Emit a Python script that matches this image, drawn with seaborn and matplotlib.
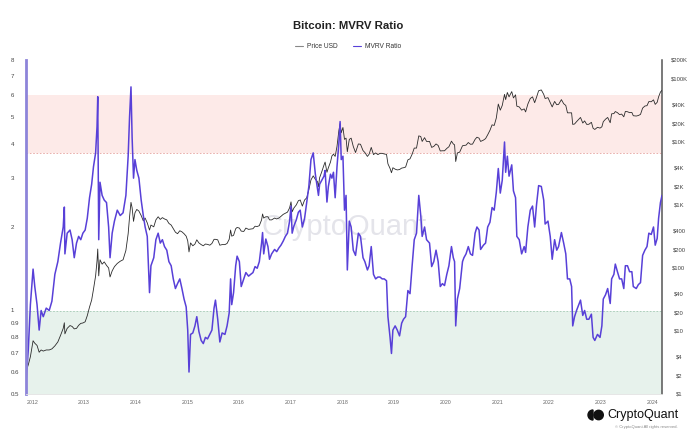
import pandas as pd
import numpy as np
import seaborn as sns
import matplotlib
matplotlib.use("Agg")
import matplotlib.pyplot as plt
import matplotlib.dates as mdates
import matplotlib.transforms as mtransforms
from matplotlib.lines import Line2D
from matplotlib.patches import Wedge, Circle, Rectangle

sns.set_theme(style="white")
plt.rcParams['font.family'] = ['Liberation Sans', 'DejaVu Sans']

# Datos (aprox. cada dos semanas)
fechas = [
    '2011-11-20', '2011-12-05', '2011-12-20',
    '2012-01-08', '2012-01-20', '2012-02-05', '2012-02-20', '2012-03-05', '2012-03-20', '2012-04-10', '2012-05-01',
    '2012-05-20', '2012-06-10', '2012-07-01', '2012-07-20', '2012-08-08', '2012-08-16', '2012-08-20', '2012-09-05',
    '2012-09-25', '2012-10-10', '2012-10-25', '2012-11-10', '2012-11-25', '2012-12-10', '2012-12-25',
    '2013-01-10', '2013-01-25', '2013-02-10', '2013-02-25', '2013-03-10', '2013-03-25', '2013-04-04', '2013-04-09',
    '2013-04-16', '2013-04-25', '2013-05-10', '2013-05-25', '2013-06-10', '2013-06-25', '2013-07-05', '2013-07-20',
    '2013-08-05', '2013-08-25', '2013-09-15', '2013-10-05', '2013-10-25', '2013-11-10', '2013-11-20', '2013-11-30',
    '2013-12-08', '2013-12-18', '2013-12-28',
    '2014-01-10', '2014-01-25', '2014-02-10', '2014-02-25', '2014-03-10', '2014-03-25', '2014-04-10', '2014-04-20',
    '2014-05-10', '2014-05-25', '2014-06-10', '2014-06-25', '2014-07-10', '2014-07-25', '2014-08-10', '2014-08-25',
    '2014-09-10', '2014-09-25', '2014-10-10', '2014-10-25', '2014-11-10', '2014-11-25', '2014-12-10', '2014-12-25',
    '2015-01-05', '2015-01-14', '2015-01-25', '2015-02-10', '2015-02-25', '2015-03-10', '2015-03-25', '2015-04-10',
    '2015-04-25', '2015-05-10', '2015-05-25', '2015-06-10', '2015-06-25', '2015-07-10', '2015-07-20', '2015-08-05',
    '2015-08-20', '2015-09-05', '2015-09-25', '2015-10-10', '2015-10-25', '2015-11-04', '2015-11-12', '2015-11-25',
    '2015-12-10', '2015-12-20',
    '2016-01-05', '2016-01-18', '2016-02-05', '2016-02-20', '2016-03-10', '2016-03-25', '2016-04-10', '2016-04-25',
    '2016-05-10', '2016-05-25', '2016-06-10', '2016-06-17', '2016-06-25', '2016-07-10', '2016-07-25', '2016-08-05',
    '2016-08-20', '2016-09-10', '2016-09-25', '2016-10-10', '2016-10-25', '2016-11-10', '2016-11-25', '2016-12-10',
    '2016-12-25',
    '2017-01-04', '2017-01-12', '2017-01-25', '2017-02-10', '2017-02-25', '2017-03-10', '2017-03-25', '2017-04-10',
    '2017-04-25', '2017-05-10', '2017-05-25', '2017-06-10', '2017-06-25', '2017-07-10', '2017-07-17', '2017-07-25',
    '2017-08-10', '2017-08-25', '2017-09-02', '2017-09-15', '2017-09-25', '2017-10-10', '2017-10-20', '2017-10-31',
    '2017-11-12', '2017-11-25', '2017-12-08', '2017-12-17', '2017-12-25',
    '2018-01-06', '2018-01-17', '2018-01-28', '2018-02-06', '2018-02-20', '2018-03-05', '2018-03-20', '2018-04-05',
    '2018-04-25', '2018-05-10', '2018-05-28', '2018-06-10', '2018-06-28', '2018-07-10', '2018-07-25', '2018-08-10',
    '2018-08-25', '2018-09-10', '2018-09-25', '2018-10-10', '2018-10-25', '2018-11-10', '2018-11-20', '2018-12-05',
    '2018-12-15', '2018-12-25',
    '2019-01-10', '2019-01-25', '2019-02-10', '2019-02-25', '2019-03-10', '2019-03-25', '2019-04-10', '2019-04-25',
    '2019-05-10', '2019-05-25', '2019-06-10', '2019-06-26', '2019-07-10', '2019-07-20', '2019-08-06', '2019-08-20',
    '2019-09-10', '2019-09-25', '2019-10-10', '2019-10-26', '2019-11-10', '2019-11-25', '2019-12-10', '2019-12-25',
    '2020-01-10', '2020-01-25', '2020-02-12', '2020-02-25', '2020-03-05', '2020-03-13', '2020-03-25', '2020-04-10',
    '2020-04-30', '2020-05-10', '2020-05-25', '2020-06-10', '2020-06-25', '2020-07-10', '2020-07-28', '2020-08-10',
    '2020-08-25', '2020-09-05', '2020-09-25', '2020-10-10', '2020-10-25', '2020-11-10', '2020-11-25', '2020-12-10',
    '2020-12-25',
    '2021-01-08', '2021-01-22', '2021-02-05', '2021-02-21', '2021-03-01', '2021-03-13', '2021-03-25', '2021-04-13',
    '2021-04-25', '2021-05-10', '2021-05-19', '2021-06-05', '2021-06-22', '2021-07-10', '2021-07-20', '2021-08-05',
    '2021-08-22', '2021-09-07', '2021-09-22', '2021-10-05', '2021-10-20', '2021-11-08', '2021-11-25', '2021-12-05',
    '2021-12-25',
    '2022-01-10', '2022-01-24', '2022-02-10', '2022-02-25', '2022-03-10', '2022-03-30', '2022-04-15', '2022-04-30',
    '2022-05-12', '2022-05-28', '2022-06-10', '2022-06-18', '2022-07-01', '2022-07-15', '2022-08-12', '2022-08-28',
    '2022-09-10', '2022-09-25', '2022-10-10', '2022-10-28', '2022-11-09', '2022-11-21', '2022-12-10', '2022-12-28',
    '2023-01-10', '2023-01-20', '2023-02-05', '2023-02-20', '2023-03-10', '2023-03-20', '2023-04-05', '2023-04-15',
    '2023-04-30', '2023-05-15', '2023-05-30', '2023-06-14', '2023-06-25', '2023-07-10', '2023-07-25', '2023-08-10',
    '2023-08-20', '2023-09-10', '2023-09-25', '2023-10-10', '2023-10-25', '2023-11-10', '2023-11-25', '2023-12-08',
    '2023-12-25',
    '2024-01-10', '2024-01-22', '2024-02-05', '2024-02-15', '2024-02-28', '2024-03-10',
]

mvrv = [
    0.56, 0.72, 1.05,
    1.41, 1.22, 1.05, 0.85, 1.0, 0.95, 1.02, 1.0,
    1.08, 1.35, 1.5, 1.75, 2.0, 2.36, 1.6, 1.9,
    1.95, 1.8, 1.55, 1.75, 1.85, 1.8, 1.9,
    1.95, 2.15, 2.55, 2.85, 3.3, 3.7, 4.6, 5.9,
    1.8, 2.9, 2.6, 2.5, 2.45, 2.0, 1.55, 1.9,
    2.1, 2.3, 2.2, 2.25, 2.6, 3.6, 5.0, 6.4,
    4.2, 3.0, 3.5,
    3.2, 3.0, 2.5, 2.2, 2.0, 1.85, 1.16, 1.45,
    1.55, 1.8, 1.9, 1.75, 1.8, 1.7, 1.65, 1.5,
    1.45, 1.3, 1.2, 1.25, 1.3, 1.2, 1.1, 1.03,
    0.85, 0.6, 0.82, 0.83, 0.88, 0.95, 0.84, 0.78,
    0.76, 0.8, 0.79, 0.82, 0.85, 1.02, 1.09, 0.93,
    0.77, 0.83, 0.82, 0.88, 0.98, 1.3, 1.05, 1.16,
    1.45, 1.57,
    1.5, 1.22, 1.3, 1.37, 1.33, 1.35, 1.37, 1.44,
    1.42, 1.5, 1.75, 1.91, 1.6, 1.81, 1.7, 1.53,
    1.6, 1.66, 1.63, 1.68, 1.72, 1.78, 1.85, 1.9,
    2.1,
    2.38, 1.9, 2.02, 2.12, 2.26, 2.3, 2.0, 2.15,
    2.45, 2.8, 3.5, 3.7, 3.1, 2.75, 2.6, 2.85,
    2.95, 3.05, 3.2, 2.46, 2.8, 3.1, 3.0, 3.15,
    2.55, 3.3, 4.0, 4.8, 3.5,
    3.6, 2.3, 2.6, 1.4, 2.1, 2.0, 1.65, 1.58,
    1.9, 1.85, 1.55, 1.5, 1.4, 1.45, 1.7, 1.35,
    1.3, 1.32, 1.32, 1.3, 1.3, 1.28, 0.95, 0.8,
    0.7, 0.85,
    0.88, 0.85, 0.81, 0.9, 0.93, 0.95, 1.18, 1.15,
    1.45, 1.8, 1.9, 2.6, 2.2, 1.85, 2.0, 1.8,
    1.75, 1.44, 1.5, 1.65, 1.5, 1.22, 1.25, 1.23,
    1.35, 1.45, 1.7, 1.55, 1.5, 0.88, 1.1, 1.2,
    1.5, 1.55, 1.6, 1.7, 1.6, 1.58, 1.9, 2.0,
    1.95, 1.66, 1.72, 1.75, 2.0, 2.08, 2.35, 2.3,
    2.67,
    3.25, 2.65, 2.95, 4.05, 3.15, 3.6, 3.05, 3.35,
    2.7, 2.55, 1.85, 1.8, 1.6, 1.7, 1.62, 2.0,
    2.3, 2.38, 2.0, 2.4, 2.82, 2.8, 2.5, 2.05,
    2.1,
    1.85, 1.53, 1.8, 1.65, 1.7, 1.91, 1.75, 1.6,
    1.3, 1.3, 1.22, 0.88, 0.95, 1.0, 1.09, 0.96,
    1.0, 0.93, 0.93, 0.97, 0.8, 0.78, 0.82, 0.8,
    0.88, 1.1, 1.14, 1.2, 1.06, 1.3, 1.35, 1.47,
    1.38, 1.3, 1.3, 1.2, 1.45, 1.45, 1.38, 1.38,
    1.22, 1.2, 1.24, 1.26, 1.58, 1.65, 1.7, 1.9,
    1.88,
    2.0, 1.72, 1.82, 2.15, 2.45, 2.6,
]

precio = [
    2.3, 2.9, 3.9,
    7.0, 6.4, 5.9, 4.6, 5.0, 4.8, 5.0, 5.0,
    5.2, 5.8, 6.7, 8.5, 11.0, 13.5, 9.0, 11.0,
    12.2, 11.8, 10.8, 11.0, 12.3, 13.2, 13.4,
    14.0, 17.5, 24.0, 31.0, 46, 75, 130, 200,
    75, 135, 115, 125, 110, 100, 72, 90,
    105, 118, 128, 135, 190, 350, 650, 1100,
    900, 550, 750,
    850, 800, 680, 560, 620, 520, 400, 480,
    450, 580, 650, 590, 630, 600, 580, 510,
    480, 420, 370, 350, 390, 375, 350, 320,
    270, 180, 250, 225, 240, 280, 250, 235,
    225, 240, 237, 230, 245, 285, 285, 280,
    230, 235, 235, 245, 285, 400, 320, 330,
    420, 440,
    430, 385, 380, 430, 410, 415, 420, 460,
    455, 470, 580, 720, 620, 650, 650, 580,
    580, 620, 600, 620, 660, 710, 740, 770,
    900,
    1120, 780, 900, 1000, 1170, 1200, 960, 1200,
    1300, 1750, 2500, 2900, 2550, 2350, 1950, 2700,
    3400, 4300, 4800, 3300, 3900, 4800, 6000, 6400,
    5900, 8500, 15000, 19500, 14000,
    17000, 11000, 11500, 7000, 11000, 11500, 8500, 6800,
    9300, 9200, 7300, 6800, 5900, 6400, 8200, 6300,
    6700, 6300, 6600, 6600, 6450, 6350, 4500, 3800,
    3250, 3900,
    3700, 3600, 3650, 3850, 3900, 4000, 5200, 5400,
    6400, 8000, 8000, 12500, 12200, 10200, 11700, 10200,
    10200, 8200, 8500, 9300, 8800, 7200, 7250, 7250,
    7900, 8400, 10300, 9300, 9000, 4900, 6700, 6900,
    8700, 8800, 8900, 9800, 9200, 9250, 11000, 11900,
    11500, 10200, 10700, 11300, 13000, 15300, 18700, 18300,
    24000,
    40000, 32000, 38000, 57000, 47000, 61000, 52000, 63000,
    50000, 56000, 37000, 36000, 32000, 33500, 30000, 40000,
    49000, 52000, 42000, 51000, 65000, 67000, 57000, 49000,
    50500,
    42000, 36000, 44000, 39000, 39500, 47000, 40500, 38000,
    29000, 29000, 29000, 19000, 19300, 21000, 24500, 20000,
    21600, 19000, 19100, 20500, 16500, 15800, 17100, 16600,
    17400, 21000, 23000, 24500, 20200, 28000, 28200, 30400,
    29200, 27200, 27700, 25100, 30500, 30200, 29200, 29400,
    26100, 25800, 26300, 27400, 34500, 37200, 37700, 43800,
    43500,
    46600, 39500, 42700, 52000, 62000, 66000,
]

ticks_mvrv = [0.5, 0.6, 0.7, 0.8, 0.9, 1, 2, 3, 4, 5, 6, 7, 8]
ticks_precio = [1, 2, 4, 10, 20, 40, 100, 200, 400, 1000, 2000, 4000, 10000, 20000, 40000, 100000, 200000]
etiquetas_precio = ['$1', '$2', '$4', '$10', '$20', '$40', '$100', '$200', '$400', '$1K', '$2K', '$4K',
                    '$10K', '$20K', '$40K', '$100K', '$200K']

df = pd.DataFrame({'fecha': pd.to_datetime(fechas), 'mvrv': mvrv, 'precio': precio})

color_mvrv = '#5840D8'
color_precio = '#2b2b2b'

fig = plt.figure(figsize=(6.96, 4.38), dpi=100)
ax = fig.add_axes([26 / 696, 44 / 438, 636 / 696, 334 / 438])
ax2 = ax.twinx()

# Precio en el eje derecho (debajo), MVRV encima
sns.lineplot(data=df, x='fecha', y='precio', ax=ax2, color=color_precio, lw=0.6, zorder=3)
sns.lineplot(data=df, x='fecha', y='mvrv', ax=ax, color=color_mvrv, lw=1.1)
ax.set_zorder(ax2.get_zorder() + 1)
ax.patch.set_visible(False)

# Zonas dibujadas en el eje de fondo, en coordenadas del MVRV
trans = mtransforms.blended_transform_factory(ax2.transAxes, ax.transData)
ax2.add_patch(Rectangle((0, 3.7), 1, 6 - 3.7, transform=trans, color='#fdeae8', lw=0, zorder=0))
ax2.add_patch(Rectangle((0, 0.5), 1, 1 - 0.5, transform=trans, color='#e7f2ec', lw=0, zorder=0))
ax2.add_line(Line2D([0, 1], [3.7, 3.7], transform=trans, color='#e6a29e', ls=(0, (2, 2)), lw=0.6, zorder=1))
ax2.add_line(Line2D([0, 1], [1, 1], transform=trans, color='#a3c9b3', ls=(0, (2, 2)), lw=0.6, zorder=1))

ax.set_xlim(pd.Timestamp('2011-11-19'), pd.Timestamp('2024-03-10'))
ax.set_yscale('log')
ax.set_ylim(0.5, 8)
ax2.set_yscale('log')
ax2.set_ylim(1, 200000)

ax.set_yticks(ticks_mvrv)
ax.set_yticklabels([f'{t:g}' for t in ticks_mvrv])
ax.yaxis.set_minor_locator(matplotlib.ticker.NullLocator())
ax2.set_yticks(ticks_precio)
ax2.set_yticklabels(etiquetas_precio)
ax2.yaxis.set_minor_locator(matplotlib.ticker.NullLocator())

ax.tick_params(axis='y', which='both', length=0, pad=10.8, labelsize=4.4, labelcolor='#444444')
for lbl in ax.get_yticklabels():
    lbl.set_ha('left')
ax2.tick_params(axis='y', which='both', length=0, pad=12.2, labelsize=4.2, labelcolor='#444444')
for lbl in ax2.get_yticklabels():
    lbl.set_ha('center')

ax.xaxis.set_major_locator(mdates.YearLocator())
ax.xaxis.set_major_formatter(mdates.DateFormatter('%Y'))
ax.tick_params(axis='x', length=2, width=0.5, color='#d0d0d0', labelsize=3.8, labelcolor='#666666', pad=2)
ax2.tick_params(axis='x', length=0)

ax.set_xlabel('')
ax.set_ylabel('')
ax2.set_ylabel('')
ax.grid(False)
ax2.grid(False)

for a in (ax, ax2):
    a.spines['top'].set_visible(False)
ax.spines['right'].set_visible(False)
ax2.spines['left'].set_visible(False)
ax2.spines['bottom'].set_visible(False)
ax.spines['left'].set_color('#8d84d9')
ax.spines['left'].set_linewidth(2)
ax.spines['bottom'].set_color('#e2e2e2')
ax.spines['bottom'].set_linewidth(0.6)
ax2.spines['right'].set_color('#555555')
ax2.spines['right'].set_linewidth(1.1)

# Marca de agua
ax2.text(0.5, 0.5, 'CryptoQuant', transform=ax2.transAxes, ha='center', va='center',
         fontsize=21, color='#e4e4ea', zorder=0.5)

# Titulo y leyenda
fig.text(0.5, 1 - 26 / 438, 'Bitcoin: MVRV Ratio', ha='center', va='center',
         fontsize=8.2, weight='bold', color='#222222')
handles = [Line2D([], [], color='#888888', lw=0.8), Line2D([], [], color=color_mvrv, lw=0.8)]
fig.legend(handles, ['Price USD', 'MVRV Ratio'], loc='center', bbox_to_anchor=(348 / 696, 1 - 47 / 438),
           ncol=2, frameon=False, fontsize=4.8, handlelength=1.2, handletextpad=0.6, columnspacing=2.2,
           labelcolor='#333333')

# Logo inferior
fig.text(607 / 696, 1 - 415 / 438, 'CryptoQuant', ha='left', va='center', fontsize=9, color='#111111')
fig.text(678 / 696, 1 - 427 / 438, '\u00a9 CryptoQuant All rights reserved.', ha='right', va='center',
         fontsize=3, color='#888888')
logo = fig.add_axes([586 / 696, (438 - 421) / 438, 20 / 696, 12 / 438])
logo.set_xlim(0, 20)
logo.set_ylim(0, 12)
logo.axis('off')
logo.add_patch(Wedge((7, 6), 5, 90, 270, color='#111111'))
logo.add_patch(Circle((12.6, 6), 4.7, color='#111111'))

fig.savefig('out.png', dpi=100)
